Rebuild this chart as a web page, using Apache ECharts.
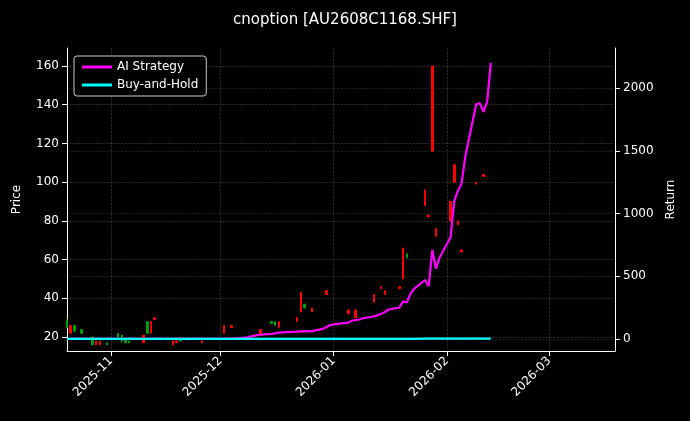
<!DOCTYPE html>
<html>
<head>
<meta charset="utf-8">
<script src="https://cdn.jsdelivr.net/npm/echarts@6/dist/echarts.min.js"></script>
<style>html,body{margin:0;background:#000;}#main{width:690px;height:421px;}</style>
</head>
<body>
<div id="main"></div>
<script>
// weekly blocks of strategy return (%), one value per trading day
var strategy = [
    0,0,0,0,0, 0,0,0,0,0, 0,0,0,0,0, 0,0,0,0,0, 0,0,0,0,0, 0,0,0,0,0,
    0,1,2,3,5, 10,18,25,30,35, 40,45,50,52,55, 58,60,62,60,62,
    80,95,110,115,120, 130,145,150,155,165, 180,190,200,215,235,
    250,300,290,360,400, 470,420,710,560,650, 810,1100,1180,1240,1450,
    1870,1880,1810,1890,2200
];
var buyHold = [
    0,0,0,0,0, 0,0,0,0,0, 0,0,0,0,0, 0,0,0,0,0, 0,0,0,0,0, 0,0,0,0,0,
    0,0,0,0,0, 0,0,0,0,0, 0,0,0,0,0, 0,0,0,0,0,
    0,0,0,0,0, 1,1,1,1,1, 1,1,1,1,1,
    1,1,1,1,1, 2,2,2,2,2, 2,2,2,2,2,
    2,2,2,2,2
];
// [date, open, close, low, high]
var candles = [
    ["2025-10-20",29,25,25,29],["2025-10-21",22,26,22,26],["2025-10-22",26,23,23,26],
    ["2025-10-24",24,22,22,24],["2025-10-27",20,16,16,20],["2025-10-28",16,18,16,18],
    ["2025-10-29",16,18,16,18],["2025-10-31",17,16,16,17],["2025-11-03",22,20,20,22],
    ["2025-11-04",21,18,17,21],["2025-11-05",19,17,17,19],["2025-11-06",18,17,17,18],
    ["2025-11-10",17,21,17,21],["2025-11-11",28,22,22,28],["2025-11-12",22,28,22,28],
    ["2025-11-13",29,30,29,30],["2025-11-18",16,18,16,18],["2025-11-19",17,18,17,18],
    ["2025-11-20",19,18,18,19],["2025-11-26",17,18,17,18],["2025-12-02",22,26,22,26],
    ["2025-12-04",25,26,25,26],["2025-12-10",20,21,20,21],["2025-12-12",21,24,21,24],
    ["2025-12-15",28,27,27,28],["2025-12-16",28,26,26,28],["2025-12-17",25,28,25,28],
    ["2025-12-22",28,30,28,30],["2025-12-23",33,43,33,43],["2025-12-24",37,35,35,37],
    ["2025-12-26",33,35,33,35],["2025-12-30",42,44,42,44],["2026-01-05",32,34,32,34],
    ["2026-01-07",30,34,30,34],["2026-01-12",38,42,38,42],["2026-01-14",45,46,45,46],
    ["2026-01-15",42,44,42,44],["2026-01-19",45,46,45,46],["2026-01-20",50,66,50,66],
    ["2026-01-21",63,61,61,63],["2026-01-26",88,96,88,96],["2026-01-27",82,83,82,83],
    ["2026-01-28",116,160,116,160],["2026-01-29",72,76,72,76],["2026-02-02",80,90,80,90],
    ["2026-02-03",100,109,100,109],["2026-02-04",78,80,78,80],["2026-02-05",64,65,64,65],
    ["2026-02-09",99,100,99,100],["2026-02-11",103,104,103,104]
];
var priceTicks = [20,40,60,80,100,120,140,160];
var returnTicks = [0,500,1000,1500,2000];

// trading days (weekdays) for the line series
var dates = [];
for (var d = new Date("2025-10-20T00:00:00"); dates.length < strategy.length; d.setDate(d.getDate() + 1)) {
    var wd = d.getDay();
    if (wd !== 0 && wd !== 6) dates.push(new Date(d.getTime()));
}
var ts = function (s) { return new Date(s + "T00:00:00").getTime(); };

var chart = echarts.init(document.getElementById("main"));
var font = "DejaVu Sans";
chart.setOption({
    backgroundColor: "#000",
    animation: false,
    textStyle: { fontFamily: font, color: "#fff" },
    title: {
        text: "cnoption [AU2608C1168.SHF]", left: "center", top: 8,
        textStyle: { color: "#fff", fontSize: 15, fontWeight: "normal", fontFamily: font }
    },
    legend: {
        left: 74, top: 56, orient: "vertical", itemGap: 6,
        backgroundColor: "#000", borderColor: "#ccc", borderWidth: 1, borderRadius: 3, padding: [5, 8],
        itemWidth: 30, itemHeight: 3,
        textStyle: { color: "#fff", fontSize: 12, fontFamily: font },
        data: [
            { name: "AI Strategy", icon: "rect", itemStyle: { color: "#ff00ff" } },
            { name: "Buy-and-Hold", icon: "rect", itemStyle: { color: "#00ffff" } }
        ]
    },
    grid: { left: 67, right: 75, top: 48, bottom: 70 },
    xAxis: {
        type: "time", min: ts("2025-10-20"), max: ts("2026-03-19"), splitNumber: 5,
        axisLine: { show: true, onZero: false, lineStyle: { color: "#fff" } },
        axisTick: { show: true, lineStyle: { color: "#fff" } },
        axisLabel: {
            rotate: 45, color: "#fff", fontSize: 12, fontFamily: font, hideOverlap: false,
            formatter: { year: "{yyyy}-{MM}", month: "{yyyy}-{MM}", day: "", hour: "", minute: "" }
        },
        splitLine: { show: true, lineStyle: { color: "#444", type: "dashed", width: 0.6 } }
    },
    yAxis: [{
        type: "value", min: 12.8, max: 169.3, name: "Price", nameLocation: "middle", nameGap: 44,
        nameTextStyle: { color: "#fff", fontSize: 12, fontFamily: font },
        axisLine: { show: true, lineStyle: { color: "#fff" } },
        axisTick: { show: true, customValues: priceTicks, lineStyle: { color: "#fff" } },
        axisLabel: { customValues: priceTicks, color: "#fff", fontSize: 12, fontFamily: font },
        splitLine: { show: true, lineStyle: { color: "#444", type: "dashed", width: 0.6 } }
    }, {
        type: "value", min: -96, max: 2319, name: "Return", nameLocation: "middle", nameGap: 46,
        nameTextStyle: { color: "#fff", fontSize: 12, fontFamily: font },
        axisLine: { show: true, lineStyle: { color: "#fff" } },
        axisTick: { show: true, customValues: returnTicks, lineStyle: { color: "#fff" } },
        axisLabel: { customValues: returnTicks, color: "#fff", fontSize: 12, fontFamily: font,
            formatter: function (v) { return String(v); } },
        splitLine: { show: true, lineStyle: { color: "#333", type: "dashed", width: 0.6 } }
    }],
    series: [{
        type: "candlestick", yAxisIndex: 0, barWidth: 2,
        itemStyle: { color: "#ff0000", color0: "#00a000", borderColor: "#ff0000", borderColor0: "#00a000", borderWidth: 1 },
        data: candles.map(function (c) { return [ts(c[0]), c[1], c[2], c[3], c[4]]; })
    }, {
        name: "AI Strategy", type: "line", yAxisIndex: 1, showSymbol: false,
        lineStyle: { color: "#ff00ff", width: 2.2 }, itemStyle: { color: "#ff00ff" },
        data: dates.map(function (t, i) { return [t.getTime(), strategy[i]]; })
    }, {
        name: "Buy-and-Hold", type: "line", yAxisIndex: 1, showSymbol: false,
        lineStyle: { color: "#00ffff", width: 2.2 }, itemStyle: { color: "#00ffff" },
        data: dates.map(function (t, i) { return [t.getTime(), buyHold[i]]; })
    }]
});
</script>
</body>
</html>
